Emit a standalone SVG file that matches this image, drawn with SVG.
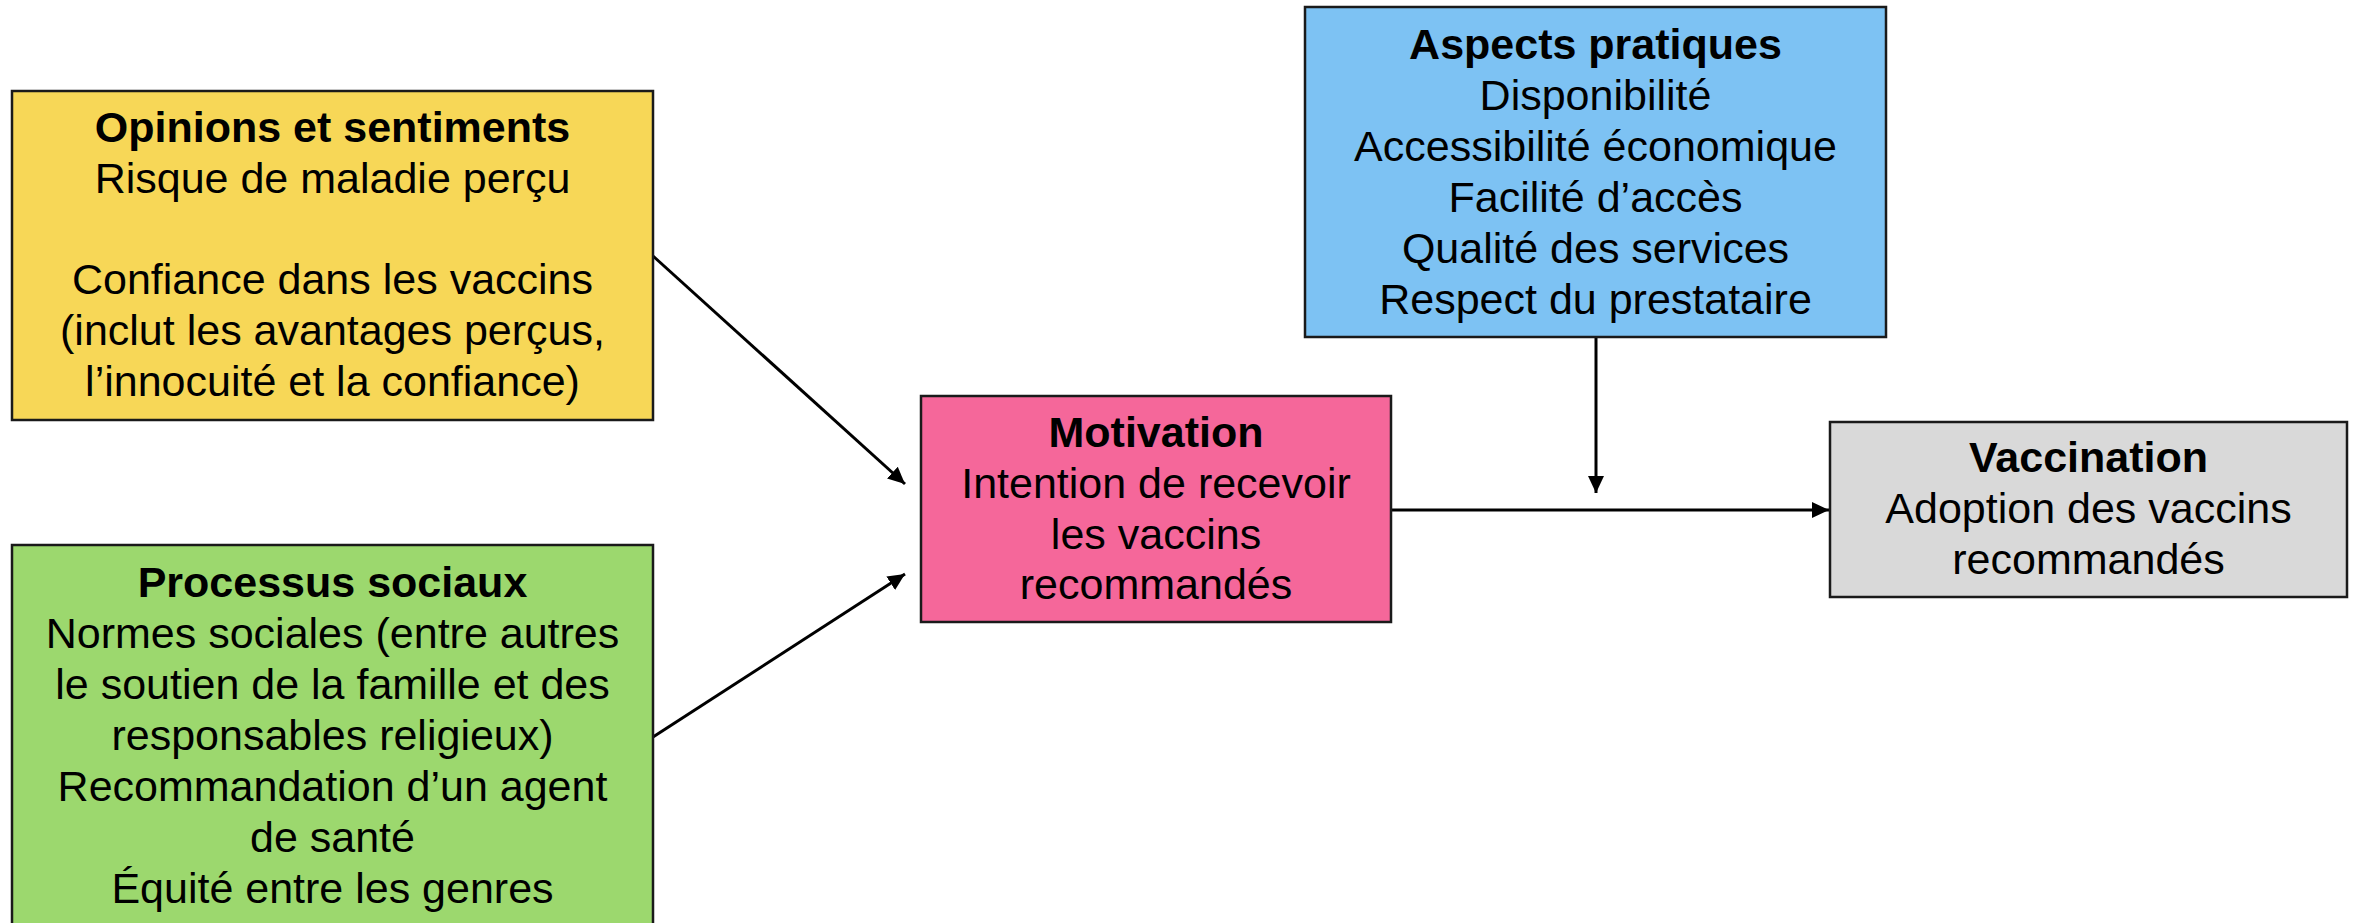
<svg xmlns="http://www.w3.org/2000/svg" width="2354" height="923" viewBox="0 0 2354 923">
<style>
.box{stroke:#1a1a1a;stroke-width:2.5}
text{font-family:"Liberation Sans",Arial,sans-serif;font-size:43px;fill:#000;text-anchor:middle}
.t{font-weight:bold}
.c{stroke:#000;stroke-width:3;fill:none}
</style>
<defs>
<marker id="ah" markerUnits="userSpaceOnUse" markerWidth="18" markerHeight="18" viewBox="0 0 18 16" refX="17" refY="8" orient="auto">
<path d="M0,0 L17,8 L0,16 Z" fill="#000"/>
</marker>
</defs>
<rect width="2354" height="923" fill="#fff"/>
<g id="connectors">
<line class="c" x1="653" y1="256" x2="905" y2="484" marker-end="url(#ah)"/>
<line class="c" x1="653" y1="737" x2="905" y2="574" marker-end="url(#ah)"/>
<line class="c" x1="1391" y1="510" x2="1829" y2="510" marker-end="url(#ah)"/>
<line class="c" x1="1596" y1="337" x2="1596" y2="493" marker-end="url(#ah)"/>
</g>
<g id="opinions">
<rect class="box" x="12" y="91" width="641" height="329" fill="#F7D757"/>
<text x="332.5" y="142" class="t">Opinions et sentiments</text>
<text x="332.5" y="193">Risque de maladie perçu</text>
<text x="332.5" y="294">Confiance dans les vaccins</text>
<text x="332.5" y="345">(inclut les avantages perçus,</text>
<text x="332.5" y="396">l’innocuité et la confiance)</text>
</g>
<g id="processus">
<rect class="box" x="12" y="545" width="641" height="390" fill="#9CD86E"/>
<text x="332.5" y="597" class="t">Processus sociaux</text>
<text x="332.5" y="648">Normes sociales (entre autres</text>
<text x="332.5" y="699">le soutien de la famille et des</text>
<text x="332.5" y="750">responsables religieux)</text>
<text x="332.5" y="801">Recommandation d’un agent</text>
<text x="332.5" y="852">de santé</text>
<text x="332.5" y="903">Équité entre les genres</text>
</g>
<g id="motivation">
<rect class="box" x="921" y="396" width="470" height="226" fill="#F5679A"/>
<text x="1156" y="447" class="t">Motivation</text>
<text x="1156" y="498">Intention de recevoir</text>
<text x="1156" y="549">les vaccins</text>
<text x="1156" y="599">recommandés</text>
</g>
<g id="aspects">
<rect class="box" x="1305" y="7" width="581" height="330" fill="#7DC2F3"/>
<text x="1595.5" y="59" class="t">Aspects pratiques</text>
<text x="1595.5" y="110">Disponibilité</text>
<text x="1595.5" y="161">Accessibilité économique</text>
<text x="1595.5" y="212">Facilité d’accès</text>
<text x="1595.5" y="263">Qualité des services</text>
<text x="1595.5" y="314">Respect du prestataire</text>
</g>
<g id="vaccination">
<rect class="box" x="1830" y="422" width="517" height="175" fill="#D9D9D9"/>
<text x="2088.5" y="472" class="t">Vaccination</text>
<text x="2088.5" y="523">Adoption des vaccins</text>
<text x="2088.5" y="574">recommandés</text>
</g>
</svg>
